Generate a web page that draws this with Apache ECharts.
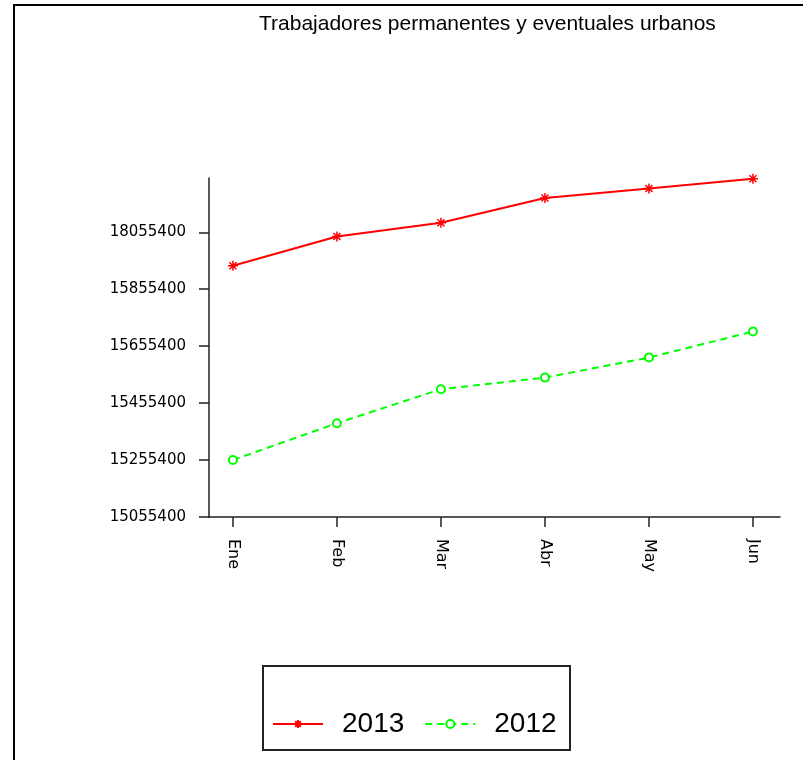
<!DOCTYPE html>
<html>
<head>
<meta charset="utf-8">
<script src="https://cdn.jsdelivr.net/npm/echarts@6/dist/echarts.min.js"></script>
<style>html,body{margin:0;padding:0;background:#fff}#c{width:803px;height:760px}</style>
</head>
<body>
<div id="c"></div>
<script>
const titleText = 'Trabajadores permanentes y eventuales urbanos';
const categories = ['Ene', 'Feb', 'Mar', 'Abr', 'May', 'Jun'];
const seriesNames = ['2013', '2012'];
const values2013 = [15937650, 16040670, 16088800, 16175600, 16209360, 16243450];
const values2012 = [15255750, 15384750, 15504250, 15545000, 15615300, 15706700];
const yTickValues = [15055400, 15255400, 15455400, 15655400, 15855400, 16055400];
const yTickLabels = ['15055400', '15255400', '15455400', '15655400', '15855400', '18055400'];

const chart = echarts.init(document.getElementById('c'), null, {renderer: 'canvas'});
const toPairs = vals => vals.map((v, i) => [i, v]);
const asterisk = 'path://M0,-10L0,10M-10,0L10,0M-7,-7L7,7M-7,7L7,-7';
const axisColor = '#222';
const tickFont = {fontFamily: 'DejaVu Sans', fontSize: 15, color: '#000'};

chart.setOption({
  animation: false,
  backgroundColor: '#fff',
  title: {
    text: titleText, left: 254, top: 9,
    textStyle: {fontFamily: 'Liberation Sans', fontSize: 21, fontWeight: 'normal', color: '#000'}
  },
  graphic: [
    {type: 'rect', shape: {x: 14, y: 5, width: 900, height: 900}, style: {fill: 'none', stroke: '#000', lineWidth: 2}, silent: true},
    {type: 'rect', shape: {x: 263, y: 666, width: 307, height: 84}, style: {fill: 'none', stroke: axisColor, lineWidth: 2}, silent: true}
  ],
  legend: {
    data: seriesNames, left: 267, top: 705, itemWidth: 50, itemHeight: 10, itemGap: 20,
    textStyle: {fontFamily: 'Liberation Sans', fontSize: 28, color: '#000', padding: [0, 0, 0, 14]}
  },
  grid: {left: 209, right: 23, top: 178, bottom: 243, containLabel: false},
  xAxis: {
    type: 'value', min: -0.23, max: 5.26,
    splitLine: {show: false},
    axisLine: {show: true, onZero: false, lineStyle: {color: axisColor, width: 1.5}},
    axisTick: {show: true, inside: false, length: 10, customValues: categories.map((c, i) => i), lineStyle: {color: axisColor, width: 1.5}},
    axisLabel: {
      customValues: categories.map((c, i) => i), rotate: -90, margin: 22,
      formatter: v => categories[Math.round(v)] || '', ...tickFont, fontSize: 16
    }
  },
  yAxis: {
    type: 'value', min: 15055400, max: 16246000,
    splitLine: {show: false},
    axisLine: {show: true, onZero: false, lineStyle: {color: axisColor, width: 1.5}},
    axisTick: {show: true, inside: false, length: 10, customValues: yTickValues, lineStyle: {color: axisColor, width: 1.5}},
    axisLabel: {
      customValues: yTickValues, margin: 23,
      formatter: v => { const i = yTickValues.indexOf(v); return i >= 0 ? yTickLabels[i] : ''; }, ...tickFont
    }
  },
  series: [
    {
      name: seriesNames[0], type: 'line', data: toPairs(values2013),
      symbol: asterisk, symbolSize: 10,
      lineStyle: {color: '#ff0000', width: 2, type: 'solid'},
      itemStyle: {color: '#ff0000', borderColor: '#ff0000', borderWidth: 1.5}
    },
    {
      name: seriesNames[1], type: 'line', data: toPairs(values2012),
      symbol: 'emptyCircle', symbolSize: 8,
      lineStyle: {color: '#00ff00', width: 2, type: [7, 5]},
      itemStyle: {color: '#00ff00', borderColor: '#00ff00', borderWidth: 2}
    }
  ]
});
</script>
</body>
</html>
